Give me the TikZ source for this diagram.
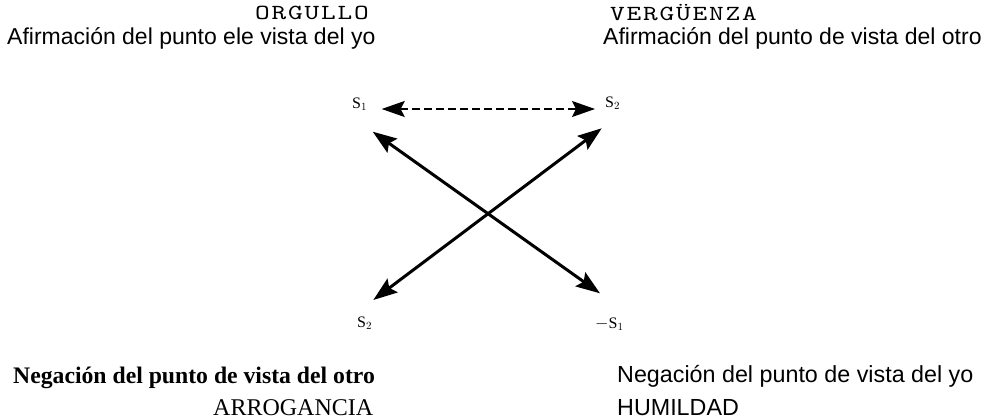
\documentclass[tikz,border=0pt]{standalone}
\usepackage{fontspec}
\setmainfont{Liberation Serif}
\newfontfamily\sansf{Liberation Sans}
\newfontfamily\monof{lmmono10-regular}[Extension=.otf, LetterSpace=6.5]
\usetikzlibrary{arrows.meta}
\begin{document}
\begin{tikzpicture}[x=1pt,y=-1pt,
  txt/.style={inner sep=0pt, anchor=base west},
  mono/.style={inner sep=0pt, anchor=base west, font=\monof\fontsize{21.5}{22}\selectfont},
  lbl/.style={inner sep=0pt, anchor=base west, font=\fontsize{16}{17}\selectfont},
  arr/.style={line width=3pt, {Stealth[length=24pt,width=17pt,inset=4pt]}-{Stealth[length=24pt,width=17pt,inset=4pt]}},
  darr/.style={line width=1.8pt, dash pattern=on 8pt off 4pt, {Stealth[length=23pt,width=16pt,inset=4pt]}-{Stealth[length=23pt,width=16pt,inset=4pt]}}]
\useasboundingbox (0,0) rectangle (999,420);
% top texts
\node[mono] (orgullo) at (255,20) {\scalebox{1.3}[1]{ORGULLO}};
\node[mono] (verg) at (610,20.5) {\scalebox{1.3}[1]{VERGÜENZA}};
\node[txt, font=\sansf\fontsize{23}{24}\selectfont] (afyo) at (7,45) {Afirmación del punto ele vista del yo};
\node[txt, font=\sansf\fontsize{23}{24}\selectfont] (afotro) at (603,45) {Afirmación del punto de vista del otro};
% bottom texts
\node[txt, font=\bfseries\fontsize{23.7}{25}\selectfont] (negotro) at (13,383) {Negación del punto de vista del otro};
\node[txt, font=\fontsize{24}{25}\selectfont] (arrog) at (213,415) {ARROGANCIA};
\node[txt, font=\sansf\fontsize{23.3}{25}\selectfont] (negyo) at (617,382) {Negación del punto de vista del yo};
\node[txt, font=\sansf\fontsize{23.3}{25}\selectfont] (humil) at (617,415) {HUMILDAD};
% S labels
\node[lbl] (s1) at (352,108) {S$_1$};
\node[lbl] (s2) at (605,107) {S$_2$};
\node[lbl] (ns2) at (357,327) {S$_2$};
\node[lbl] (ns1) at (595,328) {$-$S$_1$};
% arrow end points
\coordinate (dl) at (381.7,109);
\coordinate (dr) at (595,109);
\coordinate (a1) at (372.7,131.7);
\coordinate (b1) at (600,293.3);
\coordinate (a2) at (373.3,300);
\coordinate (b2) at (601.7,128.3);
\draw[darr] (dl) -- (dr);
\draw[arr] (a1) -- (b1);
\draw[arr] (a2) -- (b2);
\end{tikzpicture}
\end{document}
